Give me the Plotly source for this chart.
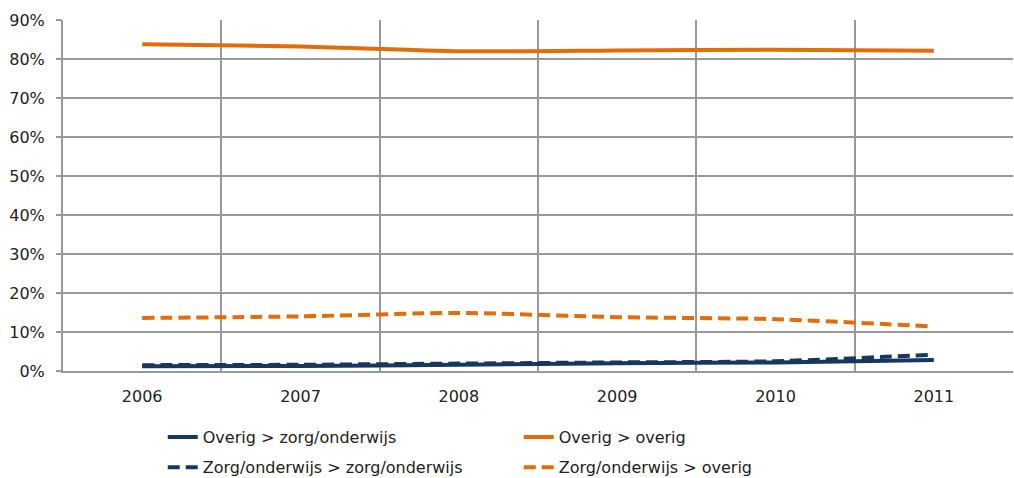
import plotly.graph_objects as go

years = ["2006", "2007", "2008", "2009", "2010", "2011"]
overig_zorg = [0.012, 0.013, 0.016, 0.020, 0.022, 0.028]
overig_overig = [0.838, 0.832, 0.820, 0.822, 0.824, 0.821]
zorg_zorg = [0.015, 0.016, 0.019, 0.022, 0.025, 0.042]
zorg_overig = [0.136, 0.140, 0.149, 0.138, 0.133, 0.114]

names = ["Overig > zorg/onderwijs", "Overig > overig",
         "Zorg/onderwijs > zorg/onderwijs", "Zorg/onderwijs > overig"]

NAVY = "#17375E"
ORANGE = "#E46C0A"
FONT = "DejaVu Sans"
TXT = "#222222"
FS = 16

fig = go.Figure()
series = [
    (overig_zorg, names[0], NAVY, "solid", "legend"),
    (overig_overig, names[1], ORANGE, "solid", "legend"),
    (zorg_zorg, names[2], NAVY, "12px,6px", "legend2"),
    (zorg_overig, names[3], ORANGE, "12px,6px", "legend2"),
]
for vals, nm, col, dash, lg in series:
    fig.add_trace(go.Scatter(
        x=years, y=vals, name=nm, mode="lines", legend=lg,
        line=dict(color=col, width=4, dash=dash, shape="spline", smoothing=0.6),
    ))

leg_common = dict(
    orientation="h", xanchor="left", yanchor="top", x=0.105,
    entrywidth=311, entrywidthmode="pixels",
    font=dict(family=FONT, size=FS, color=TXT),
    bgcolor="rgba(0,0,0,0)",
)

fig.update_layout(
    width=1014, height=478,
    margin=dict(l=63, r=1, t=20, b=107, autoexpand=False),
    paper_bgcolor="white", plot_bgcolor="white",
    font=dict(family=FONT, size=FS, color=TXT),
    showlegend=True,
    legend=dict(y=-0.14, **leg_common),
    legend2=dict(y=-0.226, **leg_common),
    xaxis=dict(
        type="category", tickson="boundaries", range=[-0.5, 5.5],
        showgrid=True, gridcolor="#999999", gridwidth=1.5,
        showline=True, linecolor="#999999", linewidth=2,
        ticks="", ticklabelstandoff=10, automargin=False,
        tickfont=dict(family=FONT, size=FS, color=TXT),
    ),
    yaxis=dict(
        range=[0, 0.9], dtick=0.1, tickformat=".0%",
        showgrid=True, gridcolor="#999999", gridwidth=1.5,
        showline=True, linecolor="#999999", linewidth=2,
        ticks="outside", ticklen=5, tickcolor="#999999", tickwidth=1.5,
        ticklabelstandoff=8, zeroline=False, automargin=False,
        tickfont=dict(family=FONT, size=FS, color=TXT),
    ),
)

fig.write_html(
    "out.html",
    config={"displayModeBar": False},
    post_script="document.body.style.margin='0px';document.body.style.overflow='hidden';",
)
